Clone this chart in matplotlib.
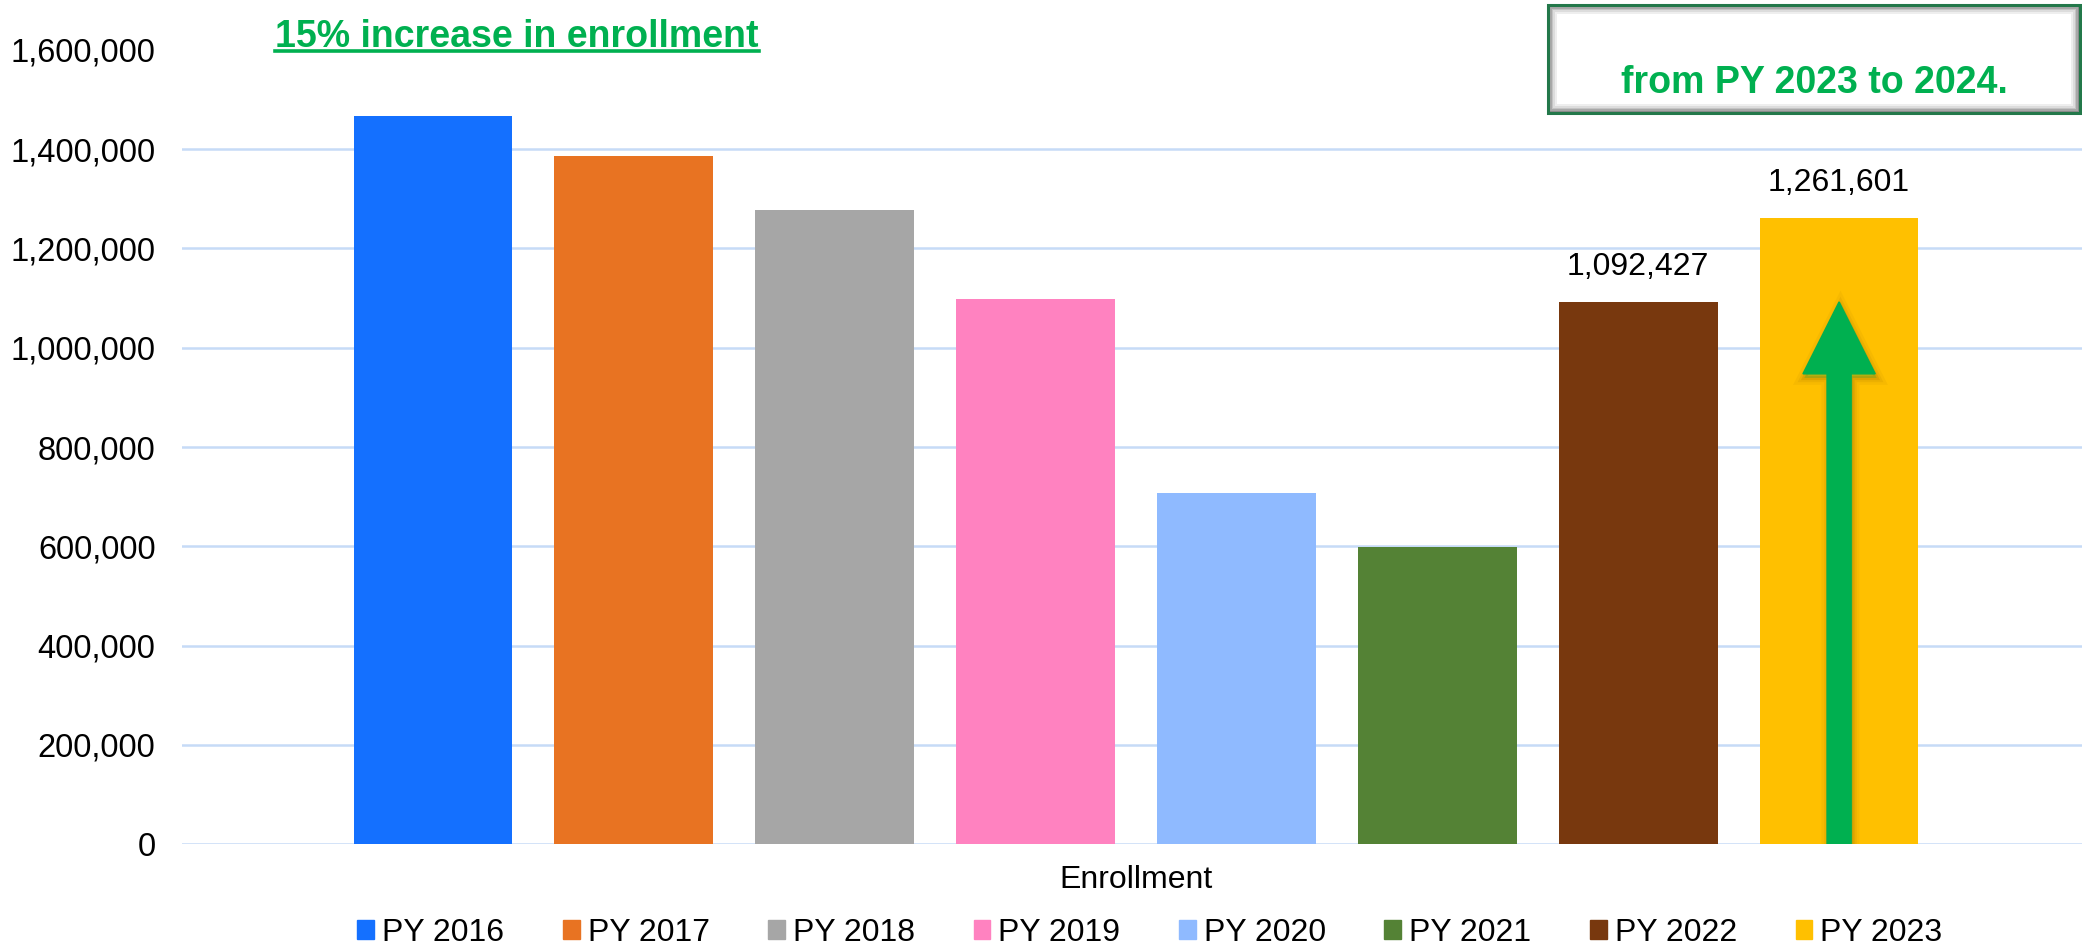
import matplotlib.pyplot as plt
import matplotlib.patheffects as pe
from matplotlib.patches import FancyArrow, Rectangle
from matplotlib.lines import Line2D
from matplotlib.ticker import FuncFormatter

# enrollment per plan year
years = ['PY 2016', 'PY 2017', 'PY 2018', 'PY 2019', 'PY 2020', 'PY 2021', 'PY 2022', 'PY 2023']
enrollment = [1468000, 1387000, 1278000, 1098000, 708000, 598000, 1092427, 1261601]
colors = ['#1470ff', '#e87322', '#a6a6a6', '#ff82c0', '#8fbaff', '#548235', '#78380e', '#ffc000']
labeled = ['PY 2022', 'PY 2023']
category = 'Enrollment'
headline = '15% increase in enrollment'
box_text = 'from PY 2023 to 2024.'
y_ticks = [0, 200000, 400000, 600000, 800000, 1000000, 1200000, 1400000, 1600000]

GREEN = '#00b050'
W, H = 2082, 947

plt.rcParams['font.family'] = ['Liberation Sans', 'DejaVu Sans']

fig = plt.figure(figsize=(W / 100, H / 100), dpi=100)
ax = fig.add_axes([182 / W, (H - 844) / H, (2090 - 182) / W, (844 - 50) / H])

x = list(range(len(years)))
bars = ax.bar(x, enrollment, width=0.79, color=colors, zorder=2)

for xi, yr, val in zip(x, years, enrollment):
    if yr in labeled:
        ax.annotate(f'{val:,}', (xi, val), xytext=(0, 14), textcoords='offset points',
                    ha='center', va='bottom', fontsize=23, color='black', zorder=4)

ax.set_xlim(3.5 - 4.749, 3.5 + 4.749)
ax.set_ylim(0, y_ticks[-1])
ax.set_yticks(y_ticks)
ax.yaxis.set_major_formatter(FuncFormatter(lambda v, p: f'{int(v):,}'))
ax.tick_params(axis='y', length=0, pad=19, labelsize=23.5)
ax.set_xticks([3.5])
ax.set_xticklabels([category])
ax.tick_params(axis='x', length=0, pad=15, labelsize=23)
ax.grid(axis='y', color='#c6dbf7', linewidth=1.8, zorder=0)
ax.set_axisbelow(True)
ax.yaxis.get_gridlines()[-1].set_visible(False)
for s in ax.spines.values():
    s.set_visible(False)

# green arrow over the last bar, tip at the previous year's level
head_len = 145000
arrow = FancyArrow(x[-1], 0, 0, enrollment[-2] - head_len, width=0.12, head_width=0.36,
                   head_length=head_len, length_includes_head=False,
                   color=GREEN, zorder=5)
arrow.set_path_effects([
    pe.Stroke(linewidth=10, foreground='#6b4a00', alpha=0.05, offset=(1, -3)),
    pe.Stroke(linewidth=6, foreground='#6b4a00', alpha=0.08, offset=(1, -3)),
    pe.Stroke(linewidth=3, foreground='#6b4a00', alpha=0.12, offset=(1, -3)),
    pe.Normal(),
])
ax.add_patch(arrow)

# legend
handles = [Rectangle((0, 0), 1, 1, color=c) for c in colors]
fig.legend(handles, years, loc='center', bbox_to_anchor=(1150 / W, 1 - 933 / H), ncol=8,
           frameon=False, fontsize=23, handlelength=0.53, handleheight=0.53,
           handletextpad=0.25, columnspacing=1.83, borderpad=0)

# headline text with underline
t = fig.text(275 / W, 1 - 47 / H, headline, fontsize=27, fontweight='bold', color=GREEN,
             ha='left', va='baseline')
fig.canvas.draw()
bb = t.get_window_extent(fig.canvas.get_renderer())
fig.add_artist(Line2D([bb.x0 / W, bb.x1 / W], [1 - 51.5 / H, 1 - 51.5 / H],
                      color=GREEN, linewidth=2.6, transform=fig.transFigure))

# bevelled box, top right
bx0, by0, bx1, by1 = 1548, 5, 2080, 113
shades = ['#8c8c8c', '#a8a8a8', '#c4c4c4', '#dcdcdc', '#eeeeee', '#ffffff']
for i, sh in enumerate(shades):
    inset = i * 1.8
    fig.add_artist(Rectangle(((bx0 + inset) / W, 1 - (by1 - inset) / H),
                             (bx1 - bx0 - 2 * inset) / W, (by1 - by0 - 2 * inset) / H,
                             facecolor=sh, edgecolor='none', transform=fig.transFigure))
fig.add_artist(Rectangle((bx0 / W, 1 - by1 / H), (bx1 - bx0) / W, (by1 - by0) / H,
                         facecolor='none', edgecolor='#23784a', linewidth=2.2,
                         transform=fig.transFigure))
fig.text((bx0 + bx1) / 2 / W, 1 - 93 / H, box_text, fontsize=27, fontweight='bold',
         color=GREEN, ha='center', va='baseline')

fig.savefig('out.png', dpi=100)
